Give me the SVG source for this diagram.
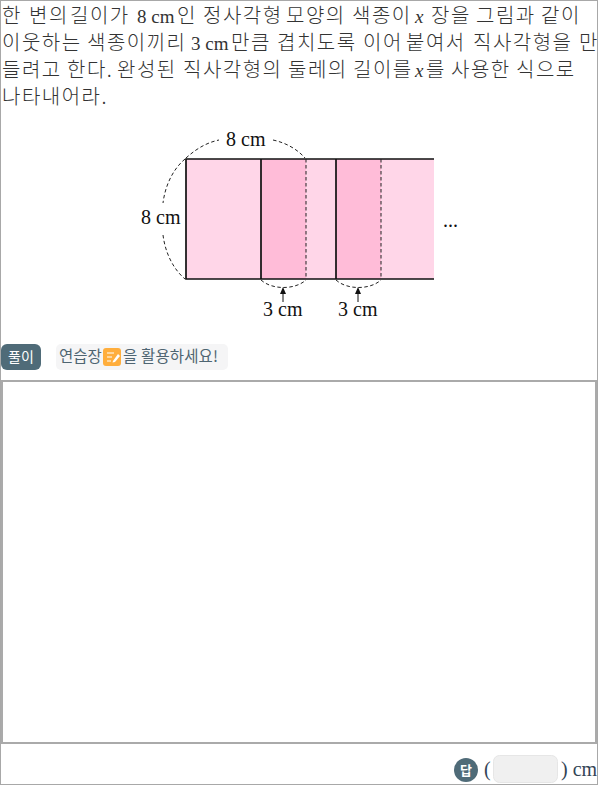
<svg xmlns="http://www.w3.org/2000/svg" width="598" height="785" viewBox="0 0 598 785">
<style>
.k{font-family:"Noto Sans CJK KR","Noto Sans",sans-serif;font-size:20px;letter-spacing:1.5px;font-weight:300;fill:#333}
.t{font-family:"Liberation Serif","Times New Roman",serif;font-size:19px;fill:#333}
.f{font-family:"Liberation Serif","Times New Roman",serif;font-size:20px;fill:#111}
.s{fill:none;stroke:#111;stroke-width:1.7}
.d{fill:none;stroke:#222;stroke-width:1;stroke-dasharray:3.5 2.5}
.b{font-family:"Noto Sans CJK KR","Noto Sans",sans-serif;font-size:15.5px;fill:#4f6572}
</style>
<rect x="0.5" y="0.5" width="597" height="784" fill="#fff" stroke="#a8a8a8"/>
<g id="question">
<text class="k" y="23"><tspan x="2">한</tspan><tspan x="29">변의</tspan><tspan x="70">길이가</tspan><tspan x="177">인</tspan><tspan x="203">정사각형</tspan><tspan x="286">모양의</tspan><tspan x="352">색종이</tspan><tspan x="431">장을</tspan><tspan x="476">그림과</tspan><tspan x="541">같이</tspan></text>
<text class="t" x="137" y="23">8 cm</text><text class="t" x="415" y="23" font-style="italic">x</text>
<text class="k" y="50"><tspan x="2">이웃하는</tspan><tspan x="87">색종이끼리</tspan><tspan x="231">만큼</tspan><tspan x="277">겹치도록</tspan><tspan x="363">이어</tspan><tspan x="406">붙여서</tspan><tspan x="473">직사각형을</tspan><tspan x="579">만</tspan></text>
<text class="t" x="191" y="50">3 cm</text>
<text class="k" y="77"><tspan x="2">들려고</tspan><tspan x="67">한다.</tspan><tspan x="117">완성된</tspan><tspan x="183">직사각형의</tspan><tspan x="288">둘레의</tspan><tspan x="353">길이를</tspan><tspan x="426">를</tspan><tspan x="451">사용한</tspan><tspan x="516">식으로</tspan></text>
<text class="t" x="415" y="77" font-style="italic">x</text>
<text class="k" x="2" y="104">나타내어라.</text>
</g>
<g id="figure">
<rect x="186" y="159" width="248" height="120" fill="#ffd6e8"/>
<rect x="261" y="159" width="45" height="120" fill="#ffbcd8"/>
<rect x="336" y="159" width="45" height="120" fill="#ffbcd8"/>
<path class="s" d="M434 159H186V279H434M261 159V279M336 159V279"/>
<path class="d" d="M306 159V279M381 159V279"/>
<path class="d" d="M186 158C195 150 205 143 219 140M273 140C287 143 298 150 305 158"/>
<path class="d" d="M185 159C172 170 165 187 163 203M163 235C165 251 172 268 185 279"/>
<path class="d" d="M261 280C272 290 295 290 306 280M336 280C347 290 370 290 381 280"/>
<path fill="none" stroke="#111" stroke-width="1" d="M283 292V302M358 292V302"/>
<path fill="#111" d="M283 287L286 294H280ZM358 287L361 294H355Z"/>
<text class="f" x="226" y="146">8 cm</text>
<text class="f" x="141" y="224">8 cm</text>
<text class="f" x="263" y="316">3 cm</text>
<text class="f" x="338" y="316">3 cm</text>
<text class="f" x="443" y="227" font-size="15">...</text>
</g>
<g id="solution-label">
<rect x="1" y="344" width="40" height="26" rx="6" fill="#4f6b78"/>
<text x="21" y="362" text-anchor="middle" font-family="'Noto Sans CJK KR',sans-serif" font-size="14" fill="#fff">풀이</text>
</g>
<g id="hint">
<rect x="56" y="344" width="172" height="26" rx="5" fill="#f5f5f6"/>
<text class="b" x="59" y="362">연습장</text>
<rect x="103" y="348" width="18" height="18" rx="3" fill="#ffae3d"/>
<path d="M107 353H114M107 357H112M107 361H111" stroke="#fff" stroke-width="1.2" fill="none"/>
<path d="M113 361L118 354L120 356L115 362L112.5 362.5Z" fill="#fff"/>
<text class="b" x="123" y="362" textLength="95">을 활용하세요!</text>
</g>
<g id="answer-area">
<rect x="2" y="381" width="594" height="362" fill="#fff" stroke="#aaa" stroke-width="2"/>
</g>
<g id="answer">
<circle cx="466" cy="770" r="12" fill="#4f6b78"/>
<text x="466" y="775" text-anchor="middle" font-family="'Noto Sans CJK KR',sans-serif" font-size="13" font-weight="700" fill="#fff">답</text>
<text x="484" y="776" font-family="'Liberation Serif',serif" font-size="20" fill="#345">(</text>
<rect x="493.500" y="755.500" width="64" height="27" rx="6" fill="#f0f0f0" stroke="#e6e6e6"/>
<text x="561" y="776" font-family="'Liberation Serif',serif" font-size="20" fill="#345">) cm</text>
</g>
</svg>
